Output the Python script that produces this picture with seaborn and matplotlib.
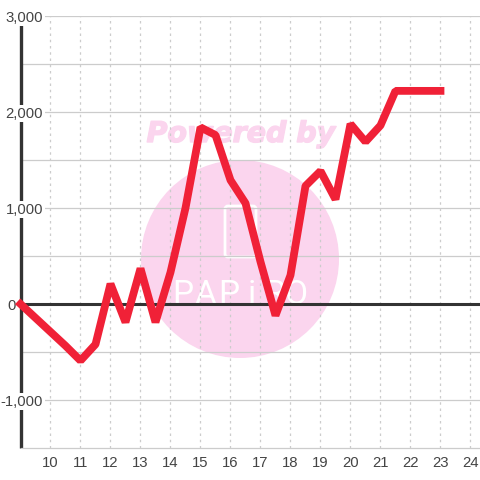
import matplotlib
matplotlib.use("Agg")
import matplotlib.pyplot as plt
import matplotlib.patches as mpatches
import matplotlib.patheffects as pe
import pandas as pd
import seaborn as sns

# valores
hours = [9, 9.5, 10, 10.5, 11, 11.5, 12, 12.5, 13, 13.5, 14, 14.5, 15, 15.5, 16, 16.5,
         17, 17.5, 18, 18.5, 19, 19.5, 20, 20.5, 21, 21.5, 22, 22.5, 23]
values = [0, -145, -290, -435, -590, -420, 210, -190, 370, -190, 330, 1000, 1840, 1760, 1290, 1050,
          440, -120, 300, 1230, 1385, 1090, 1875, 1690, 1860, 2220, 2220, 2220, 2220]
x_ticks = [10, 11, 12, 13, 14, 15, 16, 17, 18, 19, 20, 21, 22, 23, 24]
y_ticks = [-1000, 0, 1000, 2000, 3000]
y_minor = [-500, 500, 1500, 2500]

df = pd.DataFrame({"hour": hours, "value": values})

sns.set_style("white")
plt.rcParams["font.family"] = ["Liberation Sans", "DejaVu Sans"]

GRID = "#cccccc"
DARK = "#333333"
WM = "#fbd5ee"

fig = plt.figure(figsize=(4.8, 4.8), dpi=100)
# 1 unidad x = 30 px, 1000 y = 96 px
ax = fig.add_axes([20.5 / 480, 32 / 480, 459.5 / 480, 432 / 480])
ax.set_xlim(9, 24.317)
ax.set_ylim(-1500, 3000)

# marca de agua
ax_bg = fig.add_axes([0, 0, 1, 1], zorder=-1)
ax_bg.set_xlim(0, 480)
ax_bg.set_ylim(480, 0)
ax_bg.axis("off")
ax_bg.add_patch(mpatches.Circle((240, 259), 99, color=WM, lw=0))
ax_bg.text(241, 134, "Powered by", ha="center", va="center", fontsize=20.5, color=WM,
           fontweight="bold", fontstyle="italic", family="DejaVu Sans",
           path_effects=[pe.withStroke(linewidth=1, foreground=WM)])
ax_bg.add_patch(mpatches.FancyBboxPatch((225, 206), 31, 51, boxstyle="round,pad=0,rounding_size=3",
                                        fc="none", ec="white", lw=2))
for i, letter in enumerate("PAPiRO"):
    ax_bg.text(183 + i * 22.8, 304, letter, ha="center", va="baseline", fontsize=24, color="white",
               family="Roboto")
ax.patch.set_alpha(0)

for s in ax.spines.values():
    s.set_visible(False)
ax.set_xticks(x_ticks)
ax.set_yticks(y_ticks)
ax.set_yticks(y_minor, minor=True)
ax.set_xticklabels([str(t) for t in x_ticks])
ax.set_yticklabels([])
ax.tick_params(axis="both", which="both", length=0)
ax.tick_params(axis="x", labelsize=10.7, labelcolor="#444444", pad=5.5)

ax.grid(True, axis="y", which="both", color=GRID, lw=0.9)
ax.grid(True, axis="x", which="major", color=GRID, lw=0.9, ls=(0, (2, 3)))
ax.set_axisbelow(True)

ax.axhline(0, color=DARK, lw=2.2, zorder=2)
ax.axvline(9, color=DARK, lw=2.4, zorder=2, clip_on=False, solid_capstyle="butt")
ax.axhline(-1500, color=GRID, lw=0.9, zorder=2, clip_on=False)

# etiquetas y con fondo blanco sobre el eje
for t in y_ticks:
    right = 16 if t == 0 else 43
    ax.annotate(f"{t:,}", xy=(0, t), xycoords=("figure pixels", "data"), xytext=(right, -1.5),
                textcoords="offset pixels", ha="right", va="center", fontsize=10.7, color="#444444",
                zorder=4, annotation_clip=False, bbox=dict(fc="white", ec="none", pad=1.2))

line = sns.lineplot(data=df, x="hour", y="value", color="#f02137", lw=5.6, ax=ax, zorder=5,
                    errorbar=None)
line.lines[-1].set_clip_on(False)
line.lines[-1].set_solid_joinstyle("bevel")
line.lines[-1].set_solid_capstyle("projecting")
ax.set_xlabel("")
ax.set_ylabel("")

fig.savefig("out.png", dpi=100)
